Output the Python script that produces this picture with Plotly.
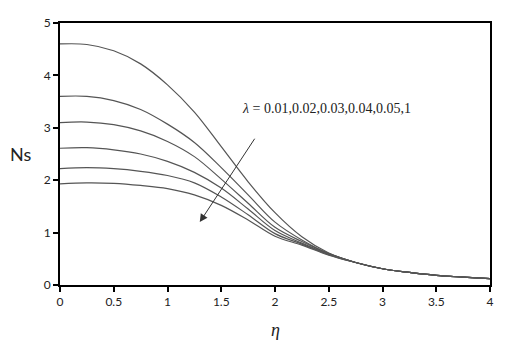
import plotly.graph_objects as go

eta = [0, 0.25, 0.5, 0.75, 1.0, 1.25, 1.5, 1.75, 2.0, 2.25, 2.5, 2.75, 3.0, 3.25, 3.5, 3.75, 4.0]

ns_001 = [4.60, 4.59, 4.47, 4.22, 3.82, 3.30, 2.64, 1.97, 1.38, 0.92, 0.61, 0.43, 0.31, 0.24, 0.185, 0.15, 0.12]
ns_002 = [3.60, 3.60, 3.52, 3.35, 3.07, 2.72, 2.24, 1.72, 1.20, 0.86, 0.60, 0.43, 0.31, 0.24, 0.185, 0.15, 0.12]
ns_003 = [3.10, 3.11, 3.06, 2.94, 2.74, 2.45, 2.02, 1.56, 1.10, 0.83, 0.60, 0.43, 0.31, 0.24, 0.185, 0.15, 0.12]
ns_004 = [2.61, 2.62, 2.58, 2.50, 2.36, 2.15, 1.85, 1.45, 1.04, 0.80, 0.59, 0.43, 0.31, 0.24, 0.185, 0.15, 0.12]
ns_005 = [2.22, 2.24, 2.22, 2.17, 2.09, 1.95, 1.68, 1.34, 0.98, 0.78, 0.58, 0.43, 0.31, 0.24, 0.185, 0.15, 0.12]
ns_1 = [1.93, 1.95, 1.94, 1.90, 1.84, 1.72, 1.52, 1.24, 0.93, 0.76, 0.57, 0.43, 0.31, 0.24, 0.185, 0.15, 0.12]

series = [ns_001, ns_002, ns_003, ns_004, ns_005, ns_1]
names = ["λ=0.01", "λ=0.02", "λ=0.03", "λ=0.04", "λ=0.05", "λ=1"]

x_ticks = [0, 0.5, 1, 1.5, 2, 2.5, 3, 3.5, 4]
x_tick_labels = ["0", "0.5", "1", "1.5", "2", "2.5", "3", "3.5", "4"]
y_ticks = [0, 1, 2, 3, 4, 5]

fig = go.Figure()
for ys, nm in zip(series, names):
    fig.add_trace(go.Scatter(x=eta, y=ys, mode="lines", name=nm,
                             line=dict(color="#555555", width=1.2, shape="spline", smoothing=1.0),
                             showlegend=False, hoverinfo="skip"))

axis_font = dict(family="Lato, Open Sans, sans-serif", size=12, color="#222")

fig.update_layout(
    width=510, height=350,
    margin=dict(l=52, r=28, t=7, b=73),
    paper_bgcolor="white", plot_bgcolor="white",
    xaxis=dict(range=[0, 4], tickvals=x_ticks, ticktext=x_tick_labels,
               showline=True, linecolor="black", linewidth=2, mirror=True,
               ticks="outside", ticklen=5, tickcolor="black", tickwidth=1.5,
               showgrid=False, zeroline=False, tickfont=axis_font),
    yaxis=dict(range=[0, 5], tickvals=y_ticks,
               showline=True, linecolor="black", linewidth=2, mirror=True,
               ticks="outside", ticklen=5, tickcolor="black", tickwidth=1.5,
               showgrid=False, zeroline=False, tickfont=axis_font),
)

# axis titles
fig.add_annotation(text="Ns", xref="paper", yref="paper", x=-0.091, y=0.5,
                   xanchor="center", yanchor="middle",
                   showarrow=False, font=dict(family="Lato, Open Sans, sans-serif", size=18, color="#222"))
fig.add_annotation(text="<i>η</i>", xref="x", yref="paper", x=2.0, y=-0.17,
                   xanchor="center", yanchor="middle",
                   showarrow=False, font=dict(family="Liberation Serif, DejaVu Serif, serif", size=18, color="#222"))

# parameter label
fig.add_annotation(text="<i>λ</i> = 0.01,0.02,0.03,0.04,0.05,1", xref="x", yref="y",
                   x=2.48, y=3.36, xanchor="center", yanchor="middle", showarrow=False,
                   font=dict(family="Liberation Serif, DejaVu Serif, serif", size=14, color="#222"))

# arrow
fig.add_annotation(x=1.30, y=1.20, ax=1.82, ay=2.82, xref="x", yref="y", axref="x", ayref="y",
                   text="", showarrow=True, arrowhead=2, arrowsize=1.6, arrowwidth=1,
                   arrowcolor="#333")

fig.write_html("out.html")
